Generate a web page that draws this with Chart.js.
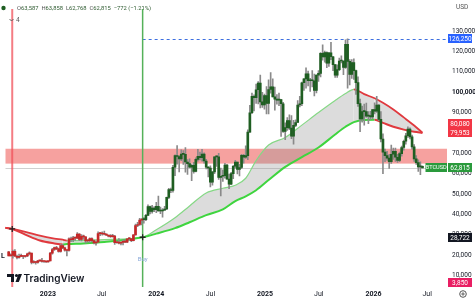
<!DOCTYPE html>
<html><head><meta charset="utf-8">
<script src="https://cdn.jsdelivr.net/npm/chart.js@4.4.1/dist/chart.umd.min.js"></script>
<style>html,body{margin:0;padding:0;background:#fff;overflow:hidden}canvas{display:block}</style>
</head><body><canvas id="c" width="475" height="300"></canvas>
<script>
// ---- DATA (prices in thousands of USD, weekly candles starting Monday 2022-08-22) ----
const startDate = '2022-08-22';
const firstOpen = 21.5;
const closes = [
 19.55,19.83,21.77,19.4,18.8,19.3,19.45,19.27,19.57,20.6,20.9,16.3,16.3,16.4,17.1,17.1,16.8,16.8,16.6,
 17.1,20.9,22.7,23.7,23.0,21.8,24.6,23.5,22.4,22.2,28.0,27.5,28.4,28.3,30.3,27.6,29.2,28.9,26.9,27.1,28.1,27.1,25.9,26.3,30.5,30.6,30.3,30.2,29.8,29.3,29.0,29.3,26.1,26.0,25.8,26.2,26.5,26.3,27.9,27.9,27.1,29.9,34.5,35.0,37.1,37.4,37.4,39.5,43.8,41.4,43.0,42.3,
 43.9,41.7,41.6,42.0,42.6,48.3,52.1,51.7,63.1,68.9,68.4,67.2,69.6,69.4,65.7,64.9,63.1,64.0,61.0,67.0,68.5,67.8,69.6,66.2,63.2,62.7,55.8,60.8,68.2,68.2,58.1,58.7,59.0,64.2,57.3,54.8,60.0,63.6,65.6,62.1,63.0,69.0,68.0,68.8,80.4,89.9,97.9,97.3,101.2,104.5,95.2,93.7,98.3,
 94.5,101.3,102.6,97.7,96.5,96.1,96.3,94.3,80.7,82.6,86.0,82.3,78.4,83.7,85.1,93.7,94.3,104.6,106.5,109.0,105.7,105.6,105.6,100.9,108.4,109.2,119.1,117.3,119.4,114.2,119.3,117.4,113.5,108.3,111.1,115.3,115.3,112.2,123.5,115.1,108.7,114.5,110.6,104.7,94.4,86.8,90.4,90.4,88.2,88.5,87.8,91.5,
 90.6,93.6,86.6,77.0,70.5,68.8,67.6,65.9,69.5,70.9,68.0,66.5,69.8,72.8,75.9,78.6,81.9,78.0,73.1,67.2,65.4,63.3,63.587,62.815
];
const highs = [
 21.8,20.6,22.4,22.7,19.9,20.4,20.5,19.6,19.7,21.0,21.5,21.0,17.2,16.8,17.4,17.4,18.4,17.0,16.9,
 17.2,21.3,23.3,23.9,24.2,23.4,25.2,25.2,23.9,22.6,28.4,28.8,29.2,28.8,31.0,30.5,30.0,29.8,29.0,27.6,28.4,28.4,27.3,26.8,31.4,31.0,31.4,31.8,30.4,29.8,30.0,30.2,29.7,26.9,28.1,26.4,27.4,27.5,28.0,28.6,28.0,30.0,35.2,36.0,38.0,37.9,38.4,40.0,44.7,44.0,44.4,43.8,
 45.9,49.0,43.5,42.8,43.9,48.5,52.8,52.9,64.0,69.2,73.8,68.9,71.7,71.3,72.8,66.9,67.3,64.7,65.5,67.7,71.9,70.6,71.9,70.2,67.0,63.4,63.8,61.0,68.4,68.7,70.0,62.7,61.8,65.0,64.5,59.8,60.6,64.1,66.5,65.6,64.5,69.4,69.5,73.6,81.5,93.5,99.6,98.7,104.0,105.2,108.4,99.9,99.0,
 102.7,106.0,109.6,106.5,102.5,98.8,99.5,96.5,95.0,84.9,87.5,88.8,88.5,86.1,86.4,95.8,97.9,104.9,106.7,111.9,110.4,106.8,110.6,108.9,108.5,110.6,119.5,123.2,120.2,119.8,119.4,124.5,117.6,113.6,113.4,116.8,117.9,115.4,125.7,126.25,116.0,116.0,116.4,110.8,107.5,96.6,93.1,94.1,94.6,90.4,90.6,91.6,
 94.8,97.9,93.9,90.5,79.5,72.0,70.9,69.5,74.0,72.5,72.5,69.5,70.5,73.5,76.5,79.8,83.0,82.5,78.9,74.2,68.9,66.8,65.8,63.858
];
const lows = [
 19.5,19.5,18.5,19.3,18.1,18.5,19.2,18.2,18.9,19.2,20.0,15.6,16.0,15.5,16.0,16.8,16.5,16.4,16.3,
 16.5,17.1,20.4,22.3,22.6,21.4,21.4,23.1,21.9,19.6,21.9,26.6,26.5,27.2,28.0,27.1,26.9,27.7,25.8,26.3,26.1,26.6,25.4,24.8,26.2,29.5,29.8,29.9,29.6,28.9,28.6,28.8,25.2,25.8,25.4,24.9,24.9,26.0,26.0,27.2,26.5,26.9,29.8,33.9,34.5,34.8,35.6,36.9,39.4,40.2,40.5,41.3,
 40.8,41.5,40.3,38.6,41.9,42.3,47.7,50.6,50.9,59.0,64.6,60.8,66.4,64.5,60.7,59.6,62.8,56.5,60.2,60.8,66.1,66.7,66.1,65.1,62.3,58.4,53.5,54.3,59.9,63.5,57.1,49.0,56.1,57.8,57.2,52.6,54.6,57.5,62.7,59.8,58.9,62.4,65.1,67.5,66.8,80.2,89.4,90.8,94.5,94.2,92.2,92.5,91.6,
 89.3,89.3,99.5,97.7,91.2,94.1,93.4,78.2,80.2,76.6,81.2,81.6,77.1,74.5,83.1,85.1,92.8,93.4,100.8,102.0,103.1,100.4,102.6,98.2,99.6,105.3,107.5,115.7,114.7,112.0,112.7,115.9,110.6,107.3,107.3,110.6,114.4,108.6,111.6,102.0,103.5,106.7,106.3,98.9,93.0,80.6,85.3,83.8,87.6,84.5,86.6,86.8,
 89.3,90.0,86.0,75.5,60.0,65.8,66.5,62.5,65.0,67.0,66.0,65.5,65.8,68.5,71.5,74.5,77.8,77.0,72.0,66.0,64.5,61.0,59.5,62.768
];
// two moving-average band lines (x = week position)
const bandWeeks = [-2,1.71,8,15,22,26,28,36,46,64.45,71,80,87,95,103,109,114,119,125,133,141,149,157,162,166,171,176,180,185,190,195,199];
const bandUpper = [33.4,32.8,31.4,29.5,28.1,27.5,27.1,27.2,27.6,28.722,32.4,38.3,44.1,50.5,52.8,54.3,57.7,66.4,74.0,77.7,83.8,90.0,95.9,99.3,101.4,99.0,97.0,94.8,91.5,87.6,83.6,80.08];
const bandLower = [33.4,32.8,30.0,27.1,25.7,25.2,25.4,25.7,26.4,28.722,30.5,33.2,36.1,39.6,42.4,46.5,48.8,51.8,56.8,63.3,68.1,72.8,79.2,83.0,85.3,86.3,86.4,84.9,83.0,81.6,80.5,79.953];
// events / levels
const sellDate = '2022-09-03';
const buyDate = '2023-11-16';
const anchorValues = [32.8, 28.722];
const zoneLow = 64.9, zoneHigh = 72.2;
const athLevel = 126.25;
const markerLevel = 28.722;
const lowLevel = 3.85;
// axes
const xTickDates = ['2023-01-01','2023-07-01','2024-01-01','2024-07-01','2025-01-01','2025-07-01','2026-01-01','2026-07-01'];
const xTickLabels = ['2023','Jul','2024','Jul','2025','Jul','2026','Jul'];
const yTickValues = [10,20,30,40,50,60,70,80,90,100,110,120,130];

// ---- helpers ----
const WEEK = 7*864e5;
function utc(s){const [y,m,d]=s.split('-').map(Number);return Date.UTC(y,m-1,d);}
const t0 = utc(startDate);
const weekOf = s => (utc(s)-t0)/WEEK;
const fmt = v => String(Math.round(v*1000)).replace(/\B(?=(\d{3})+(?!\d))/g, ',');
const opens = closes.map((c,i)=> i===0 ? firstOpen : closes[i-1]);
const buyW = weekOf(buyDate), sellW = weekOf(sellDate);
const GREEN_BODY='#1f5e22', RED_BODY='#c62828';
const FONT='Roboto, "Liberation Sans", sans-serif';

const bodies = closes.map((c,i)=>({x:i, y:[Math.min(opens[i],c), Math.max(opens[i],c)]}));
const wicks = closes.map((c,i)=>({x:i, y:[lows[i], highs[i]]}));
const up = bandWeeks.map((w,i)=>({x:w,y:bandUpper[i]}));
const lo = bandWeeks.map((w,i)=>({x:w,y:bandLower[i]}));
const anchors = [{x:sellW,y:anchorValues[0]},{x:buyW,y:anchorValues[1]}];

const slopeColor = (rise, fall) => ctx => ctx.p1.parsed.y >= ctx.p0.parsed.y ? rise : fall;

const overlay = {
  id:'overlay',
  beforeDatasetsDraw(chart){
    const {ctx, chartArea:a, scales:{x,y}} = chart;
    ctx.save();
    ctx.beginPath(); ctx.rect(a.left,a.top,a.right-a.left,a.bottom-a.top); ctx.clip();
    ctx.fillStyle='rgba(239,83,80,0.55)';
    const zt=y.getPixelForValue(zoneHigh), zb=y.getPixelForValue(zoneLow);
    ctx.fillRect(a.left, zt, a.right-a.left, zb-zt);
    const lp = y.getPixelForValue(closes[closes.length-1]);
    ctx.strokeStyle='rgba(120,120,120,0.35)'; ctx.lineWidth=1;
    ctx.beginPath(); ctx.moveTo(a.left,Math.round(lp)+0.5); ctx.lineTo(a.right,Math.round(lp)+0.5); ctx.stroke();
    const ay = Math.round(y.getPixelForValue(athLevel))+0.5;
    ctx.strokeStyle='#3d6fe0'; ctx.setLineDash([3,3]);
    ctx.beginPath(); ctx.moveTo(x.getPixelForValue(buyW),ay); ctx.lineTo(a.right,ay); ctx.stroke();
    ctx.setLineDash([]);
    ctx.strokeStyle='rgba(240,80,90,0.75)'; ctx.lineWidth=2;
    let sx=x.getPixelForValue(sellW);
    ctx.beginPath(); ctx.moveTo(sx,0); ctx.lineTo(sx,a.bottom); ctx.stroke();
    ctx.strokeStyle='#55b159'; ctx.lineWidth=1.5;
    let bx=x.getPixelForValue(buyW);
    ctx.beginPath(); ctx.moveTo(bx,0); ctx.lineTo(bx,a.bottom); ctx.stroke();
    ctx.restore();
  },
  afterDraw(chart){
    const {ctx, chartArea:a, scales:{x,y}} = chart;
    ctx.save();
    ctx.textBaseline='middle';
    const tag=(text,left,w,yc,bg,fg,size)=>{
      ctx.fillStyle=bg; ctx.fillRect(left, Math.round(yc-4.5), w, 9);
      ctx.fillStyle=fg; ctx.font=(size||6.5)+'px '+FONT; ctx.textAlign='center';
      ctx.fillText(text, left+w/2, Math.round(yc-4.5)+5);
    };
    const clampY = v => Math.min(a.bottom-4.5, y.getPixelForValue(v));
    const L=a.right+1, W=24;
    tag(fmt(athLevel), L, W, y.getPixelForValue(athLevel), '#2962ff', '#fff');
    const yl = y.getPixelForValue(bandLower[bandLower.length-1]);
    tag(fmt(bandLower[bandLower.length-1]), L, W, yl, '#f23645', '#fff');
    tag(fmt(bandUpper[bandUpper.length-1]), L, W, yl-9, '#f23645', '#fff');
    const last = closes[closes.length-1];
    tag('BTCUSD', a.right-21.5, 21.5, y.getPixelForValue(last), '#2a9a3c', '#fff', 5.6);
    tag(fmt(last), L, W, y.getPixelForValue(last), '#2a9a3c', '#fff');
    tag(fmt(markerLevel), L, W, y.getPixelForValue(markerLevel), '#131722', '#fff');
    tag(fmt(lowLevel), L, W, clampY(lowLevel), '#e91e63', '#fff');
    ctx.fillStyle='#555'; ctx.font='6.5px '+FONT; ctx.textAlign='left';
    ctx.fillText('USD', 456, 7);
    const n=closes.length-1, o=opens[n], c=closes[n];
    ctx.fillStyle='#1f5e22'; ctx.beginPath(); ctx.arc(3.5,8,2.2,0,Math.PI*2); ctx.fill();
    const parts=[['O',fmt(o)],['H',fmt(highs[n])],['L',fmt(lows[n])],['C',fmt(c)]];
    let tx=17; ctx.font='5.8px '+FONT;
    parts.forEach(([k,v])=>{
      ctx.fillStyle='#555'; ctx.fillText(k,tx,9); tx+=ctx.measureText(k).width;
      ctx.fillStyle='#2d5a2f'; ctx.fillText(v,tx,9); tx+=ctx.measureText(v).width+3;
    });
    const ch=c-o, pct=ch/o*100;
    ctx.fillText((ch<0?'\u2212':'+')+fmt(Math.abs(ch))+' ('+(ch<0?'\u2212':'+')+Math.abs(pct).toFixed(2)+'%)', tx, 9);
    ctx.fillStyle='#555'; ctx.font='6.5px '+FONT;
    ctx.strokeStyle='#555'; ctx.lineWidth=0.9;
    ctx.beginPath(); ctx.moveTo(9.5,19); ctx.lineTo(11.5,21); ctx.lineTo(13.5,19); ctx.stroke();
    ctx.fillText('4',16,20.5);
    ctx.fillStyle='#86a6d8'; ctx.font='6px '+FONT; ctx.textAlign='center';
    ctx.fillText('Buy', x.getPixelForValue(buyW), 259);
    ctx.fillStyle='#131722'; ctx.font='bold 7px '+FONT; ctx.textAlign='left';
    ctx.fillText('L', 1, y.getPixelForValue(19.6)+0.5);
    ctx.fillStyle='#131722';
    ctx.fillRect(7,274,7,3); ctx.fillRect(11,274,3,8);
    ctx.beginPath(); ctx.arc(16.5,275.5,1.6,0,Math.PI*2); ctx.fill();
    ctx.beginPath(); ctx.moveTo(18.5,274); ctx.lineTo(22,274); ctx.lineTo(18.8,282); ctx.lineTo(15.5,282); ctx.closePath(); ctx.fill();
    ctx.font='600 10px Inter, Roboto, sans-serif'; ctx.textAlign='left';
    ctx.fillText('TradingView', 23.5, 278.5);
    ctx.strokeStyle='#555'; ctx.lineWidth=1;
    ctx.beginPath(); ctx.arc(463,294,3.3,0,Math.PI*2); ctx.stroke();
    ctx.beginPath(); ctx.arc(463,294,1.1,0,Math.PI*2); ctx.stroke();
    ctx.restore();
  }
};

new Chart(document.getElementById('c'), {
  type:'bar',
  data:{datasets:[
    {type:'line', data:up, order:4, fill:'+1', backgroundColor:'rgba(150,150,150,0.33)',
     pointRadius:0, cubicInterpolationMode:'monotone', borderWidth:1.6,
     segment:{borderColor:slopeColor('#86d886','#e0393e'), borderWidth:ctx=>ctx.p1.parsed.y>=ctx.p0.parsed.y?1.2:1.8}},
    {type:'line', data:lo, order:3, fill:false, pointRadius:0, cubicInterpolationMode:'monotone', borderWidth:2,
     segment:{borderColor:slopeColor('#3fd53f','#e0393e')}},
    {type:'scatter', data:anchors, order:0, pointStyle:'cross', pointRadius:3, borderColor:'#222', borderWidth:1.3},
    {data:wicks, order:2, grouped:false, barThickness:1, backgroundColor:'#8a8a8a', minBarLength:1},
    {data:bodies, order:1, grouped:false, barThickness:2, minBarLength:1,
     backgroundColor:ctx=> ctx.dataIndex < buyW ? RED_BODY : GREEN_BODY}
  ]},
  options:{
    responsive:false, animation:false, devicePixelRatio:1,
    layout:{padding:0},
    plugins:{legend:{display:false}, tooltip:{enabled:false}},
    scales:{
      x:{type:'linear', position:'bottom', min:-1.62, max:210.8, offset:false,
         grid:{display:false, drawTicks:false}, border:{display:false},
         afterBuildTicks:s=>{s.ticks = xTickDates.map(d=>({value:weekOf(d)}));},
         afterFit:s=>{s.height=13;},
         ticks:{autoSkip:false, maxRotation:0, padding:3, color:'#131722',
           font:ctx=>({family:FONT, size:7, weight: (ctx.index%2===0)?'bold':'normal'}),
           callback:(v,i)=>xTickLabels[i]}},
      y:{type:'linear', position:'right', min:4.28, max:140.9,
         grid:{display:false, drawTicks:false}, border:{display:false},
         afterBuildTicks:s=>{s.ticks = yTickValues.map(v=>({value:v}));},
         afterFit:s=>{s.width=28;},
         ticks:{padding:5, color:'#131722',
           font:ctx=>({family:FONT, size:6.5, weight:(ctx.tick && ctx.tick.value===100)?'bold':'normal'}),
           callback:v=>fmt(v)}}
    }
  },
  plugins:[overlay]
});
</script></body></html>
